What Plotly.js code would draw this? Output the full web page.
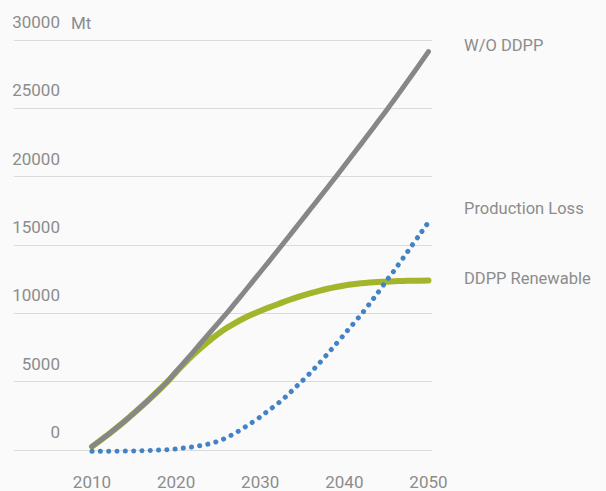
<!DOCTYPE html>
<html>
<head>
<meta charset="utf-8">
<script src="https://cdn.plot.ly/plotly-3.0.1.min.js"></script>
<style>
  html, body { margin: 0; padding: 0; background: #fafafa; }
  #chart { width: 606px; height: 491px; }
</style>
</head>
<body>
<div id="chart"></div>
<script>
// ---- data (Mt) ----
var years = [2010,2011,2012,2013,2014,2015,2016,2017,2018,2019,
             2020,2021,2022,2023,2024,2025,2026,2027,2028,2029,
             2030,2031,2032,2033,2034,2035,2036,2037,2038,2039,
             2040,2041,2042,2043,2044,2045,2046,2047,2048,2049,2050];

var woDDPP = [250,700,1170,1660,2170,2700,3250,3820,4410,5020,
              5730,6440,7150,7870,8580,9290,10000,10740,11490,12250,
              13010,13770,14540,15310,16090,16870,17650,18430,19210,20000,
              20800,21600,22400,23210,24030,24850,25690,26540,27400,28270,29150];

var ddppRenewable = [250,700,1170,1660,2170,2700,3250,3820,4410,5020,
                     5700,6340,6940,7500,8020,8500,8920,9290,9620,9910,
                     10170,10420,10650,10880,11100,11300,11480,11650,11800,11930,
                     12040,12130,12200,12250,12290,12320,12350,12370,12380,12390,12400];

var productionLoss = [-100,-100,-100,-90,-80,-70,-50,-30,0,30,
                      80,150,230,330,460,640,900,1230,1600,2000,
                      2420,2900,3350,3880,4470,5060,5680,6330,7030,7740,
                      8460,9190,9910,10700,11520,12380,13190,14060,14930,15800,16670];

var seriesNames = ["W/O DDPP", "Production Loss", "DDPP Renewable"];
var xTickVals = [2010, 2020, 2030, 2040, 2050];
var xTickText = ["2010", "2020", "2030", "2040", "2050"];
var yTickVals = [0, 5000, 10000, 15000, 20000, 25000, 30000];
var yTickText = ["0", "5000", "10000", "15000", "20000", "25000", "30000"];
var unitLabel = "Mt";

// ---- styling ----
var FONT = "Roboto, Liberation Sans, Arial, sans-serif";
var TXT = "#8c8c8c";
var GRAY = "#878787";
var GREEN = "#a3b52b";
var BLUE = "#4283c6";

var traces = [
  { x: years, y: ddppRenewable, name: seriesNames[2], mode: "lines",
    line: { color: GREEN, width: 6, shape: "spline", smoothing: 0.6, simplify: false }, hoverinfo: "skip" },
  { x: years, y: woDDPP, name: seriesNames[0], mode: "lines",
    line: { color: GRAY, width: 5, shape: "spline", smoothing: 0.6, simplify: false }, hoverinfo: "skip" },
  { x: years, y: productionLoss, name: seriesNames[1], mode: "lines",
    line: { color: BLUE, width: 5, dash: "0.1px,8.2px", shape: "spline", smoothing: 0.6, simplify: false }, hoverinfo: "skip" }
];

var layout = {
  width: 606, height: 491,
  paper_bgcolor: "#fafafa", plot_bgcolor: "#fafafa",
  margin: { l: 14, r: 174, t: 30, b: 31, pad: 0 },
  showlegend: false,
  font: { family: FONT, color: TXT, size: 17 },
  xaxis: {
    range: [2000.73, 2050.42],
    tickvals: xTickVals, ticktext: xTickText,
    showgrid: false, zeroline: false, showline: false, ticks: "",
    ticklabelstandoff: 10,
    tickfont: { family: FONT, color: TXT, size: 17 },
    fixedrange: true
  },
  yaxis: {
    range: [-731.7, 30731.7],
    tickvals: yTickVals, ticktext: yTickText,
    anchor: "free", position: 0.110,
    showgrid: true, gridcolor: "#dadada", gridwidth: 1,
    zeroline: false, showline: false, ticks: "",
    ticklabelshift: -18,
    tickfont: { family: FONT, color: TXT, size: 17 },
    fixedrange: true
  },
  annotations: [
    { text: unitLabel, xref: "paper", yref: "paper", x: 0.1316, y: 1.0174,
      xanchor: "left", yanchor: "middle", showarrow: false,
      font: { family: FONT, color: TXT, size: 17 } },
    { text: seriesNames[0], xref: "paper", yref: "paper", x: 1.0718, y: 0.965,
      xanchor: "left", yanchor: "middle", showarrow: false,
      font: { family: FONT, color: TXT, size: 16.5 } },
    { text: seriesNames[1], xref: "paper", yref: "paper", x: 1.0718, y: 0.586,
      xanchor: "left", yanchor: "middle", showarrow: false,
      font: { family: FONT, color: TXT, size: 16.5 } },
    { text: seriesNames[2], xref: "paper", yref: "paper", x: 1.0718, y: 0.423,
      xanchor: "left", yanchor: "middle", showarrow: false,
      font: { family: FONT, color: TXT, size: 16.5 } }
  ]
};

Plotly.newPlot("chart", traces, layout, { staticPlot: true, displayModeBar: false })
  .then(function (gd) {
    var paths = gd.querySelectorAll(".scatterlayer path.js-line");
    paths.forEach(function (p) {
      p.style.strokeLinecap = "round";
      p.style.strokeLinejoin = "round";
    });
  });
</script>
</body>
</html>
